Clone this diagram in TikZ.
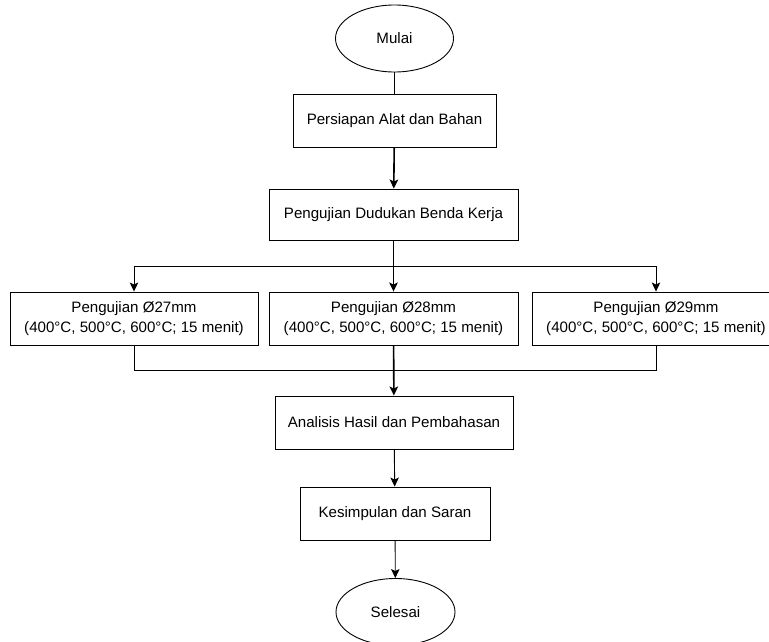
\documentclass[tikz,border=0pt]{standalone}
\usepackage{fontspec}
\setmainfont{Liberation Sans}
\usetikzlibrary{shapes.geometric,arrows.meta,positioning}

\begin{document}
\begin{tikzpicture}[x=1pt, y=-1pt,
    font=\fontsize{15.1}{20}\selectfont,
    terminal/.style={draw, ellipse, line width=0.9pt, minimum width=118pt, minimum height=67pt, inner sep=0pt},
    process/.style={draw, rectangle, line width=0.9pt, minimum height=53pt, inner sep=2pt, align=center},
    link/.style={draw, line width=0.9pt},
    flow/.style={draw, line width=0.9pt, -{Stealth[length=9pt, width=8.5pt, inset=2pt]}},
    mainflow/.style={flow, line width=1.6pt}]

\clip (0,0) rectangle (769,642);
\fill[white] (0,0) rectangle (769,642);

% Start and preparation
\node[terminal] (mulai) at (394.5,38.5) {Mulai};
\node[process, minimum width=203pt] (persiapan) at (394.5,121) {Persiapan Alat dan Bahan};
\node[process, minimum width=249pt, minimum height=51pt] (dudukan) at (393.5,214.5) {Pengujian Dudukan Benda Kerja};

% Tests
\node[process, minimum width=248pt] (uji27) at (134,318.5) {Pengujian Ø27mm\\(400°C, 500°C, 600°C; 15 menit)};
\node[process, minimum width=249pt] (uji28) at (393.5,318.5) {Pengujian Ø28mm\\(400°C, 500°C, 600°C; 15 menit)};
\node[process, minimum width=248pt] (uji29) at (656,318.5) {Pengujian Ø29mm\\(400°C, 500°C, 600°C; 15 menit)};

% Analysis and end
\node[process, minimum width=238pt] (analisis) at (394,422.5) {Analisis Hasil dan Pembahasan};
\node[process, minimum width=190pt] (kesimpulan) at (395,513.5) {Kesimpulan dan Saran};
\node[terminal, minimum width=119pt] (selesai) at (395.5,612) {Selesai};

% Split and merge points
\coordinate (split) at (393.5,266);
\coordinate (merge) at (393.5,370);

% Connectors
\draw[link] (mulai) -- (persiapan);
\draw[mainflow] (persiapan) -- (dudukan);
\draw[mainflow] (dudukan) -- (uji28);
\draw[flow] (split) -| (uji27);
\draw[flow] (split) -| (uji29);
\draw[link] (uji27) |- (merge);
\draw[link] (uji29) |- (merge);
\draw[mainflow] (uji28) -- (analisis);
\draw[flow] (analisis) -- (kesimpulan);
\draw[flow] (kesimpulan) -- (selesai);
\end{tikzpicture}
\end{document}
